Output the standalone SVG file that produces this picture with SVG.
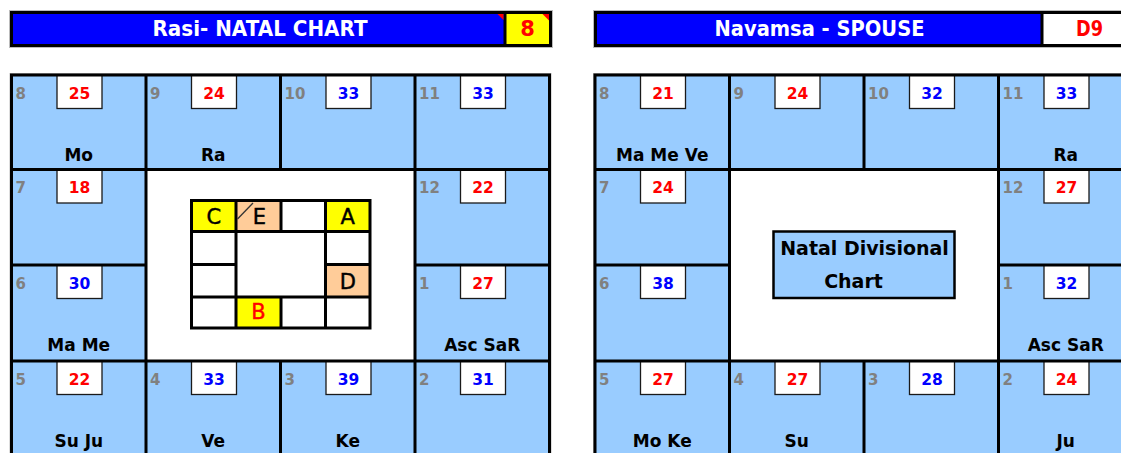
<svg xmlns="http://www.w3.org/2000/svg" width="1121" height="453" viewBox="0 0 1121 453">
<style>
.hdr{fill:#0000FF}
.bd{fill:none;stroke:#000;stroke-width:3;stroke-linecap:square}
.cell{fill:#99CCFF}
.nb{fill:#fff;stroke:#1a1a1a;stroke-width:1.3}
.hn{font-family:"DejaVu Sans",sans-serif;font-weight:bold;font-size:15px;fill:#808080}
.nr{font-family:"DejaVu Sans",sans-serif;font-weight:bold;font-size:15.5px;fill:#FF0000;text-anchor:middle}
.nbl{font-family:"DejaVu Sans",sans-serif;font-weight:bold;font-size:15.5px;fill:#0000FF;text-anchor:middle}
.pl{font-family:"DejaVu Sans",sans-serif;font-weight:bold;font-size:17px;fill:#000;text-anchor:middle}
.ht{font-family:"DejaVu Sans",sans-serif;font-weight:bold;font-size:21px;fill:#fff;text-anchor:middle}
.hr{font-family:"DejaVu Sans",sans-serif;font-weight:bold;font-size:21px;fill:#FF0000;text-anchor:middle}
.ml{font-family:"DejaVu Sans",sans-serif;font-size:21px;fill:#000;stroke:#000;stroke-width:0.45;text-anchor:middle}
.mlr{font-family:"DejaVu Sans",sans-serif;font-size:21px;fill:#FF0000;stroke:#FF0000;stroke-width:0.45;text-anchor:middle}
.ct{font-family:"DejaVu Sans",sans-serif;font-weight:bold;font-size:19px;fill:#000;text-anchor:middle}
.tri{fill:#FF0000}
</style>
<rect width="1121" height="453" fill="#fff"/>

<!-- Left header -->
<g id="header-left">
  <rect x="9.5" y="10.5" width="543" height="37" fill="none" stroke="#bbb" stroke-width="1"/>
  <rect x="11.5" y="12.5" width="539" height="33" class="hdr"/>
  <rect x="505" y="12.5" width="45.5" height="33" fill="#FFFF00"/>
  <rect x="11.5" y="12.5" width="539" height="33" class="bd"/>
  <line x1="505" y1="12.5" x2="505" y2="45.5" class="bd"/>
  <polygon class="tri" points="497.5,14 503.5,14 503.5,20"/>
  <polygon class="tri" points="542.5,14 549,14 549,20.5"/>
  <text x="260" y="36" class="ht" textLength="215" lengthAdjust="spacingAndGlyphs">Rasi- NATAL CHART</text>
  <text x="527.5" y="36" class="hr">8</text>
</g>

<!-- Right header -->
<g id="header-right">
  <rect x="593.5" y="10.5" width="545" height="37" fill="none" stroke="#bbb" stroke-width="1"/>
  <rect x="595.5" y="12.5" width="541" height="33" class="hdr"/>
  <rect x="1042" y="12.5" width="94" height="33" fill="#fff"/>
  <rect x="595.5" y="12.5" width="541" height="33" class="bd"/>
  <line x1="1042" y1="12.5" x2="1042" y2="45.5" class="bd"/>
  <text x="819.5" y="36" class="ht" textLength="210" lengthAdjust="spacingAndGlyphs">Navamsa - SPOUSE</text>
  <text x="1089.5" y="36" class="hr" textLength="27" lengthAdjust="spacingAndGlyphs">D9</text>
</g>

<!-- LEFT CHART -->
<g id="rasi-chart">
  <rect x="10" y="73.5" width="541" height="385" fill="none" stroke="#bbb" stroke-width="1"/>
  <g id="rasi-cells-bg">
    <rect x="11.5" y="75" width="538" height="382" class="cell"/>
    <rect x="146" y="169.5" width="269" height="191.5" fill="#fff"/>
  </g>
  <g id="rasi-boxes">
    <rect x="57" y="75" width="45" height="33.5" class="nb"/>
    <rect x="191.5" y="75" width="45" height="33.5" class="nb"/>
    <rect x="326" y="75" width="45" height="33.5" class="nb"/>
    <rect x="460.5" y="75" width="45" height="33.5" class="nb"/>
    <rect x="57" y="169.5" width="45" height="33.5" class="nb"/>
    <rect x="460.5" y="169.5" width="45" height="33.5" class="nb"/>
    <rect x="57" y="265" width="45" height="33.5" class="nb"/>
    <rect x="460.5" y="265" width="45" height="33.5" class="nb"/>
    <rect x="57" y="361" width="45" height="33.5" class="nb"/>
    <rect x="191.5" y="361" width="45" height="33.5" class="nb"/>
    <rect x="326" y="361" width="45" height="33.5" class="nb"/>
    <rect x="460.5" y="361" width="45" height="33.5" class="nb"/>
  </g>
  <path class="bd" d="M11.5,75H549.5V457H11.5Z M146,75V457 M415,75V457 M280.5,75V169.5 M280.5,361V457 M11.5,169.5H549.5 M11.5,361H549.5 M11.5,265H146 M415,265H549.5"/>

  <g id="rasi-h8"><text x="15.5" y="98.5" class="hn">8</text><text x="79.5" y="98.5" class="nr">25</text><text x="78.75" y="161" class="pl">Mo</text></g>
  <g id="rasi-h9"><text x="150" y="98.5" class="hn">9</text><text x="214" y="98.5" class="nr">24</text><text x="213.25" y="161" class="pl">Ra</text></g>
  <g id="rasi-h10"><text x="284.5" y="98.5" class="hn">10</text><text x="348.5" y="98.5" class="nbl">33</text></g>
  <g id="rasi-h11"><text x="419" y="98.5" class="hn">11</text><text x="483" y="98.5" class="nbl">33</text></g>
  <g id="rasi-h7"><text x="15.5" y="193" class="hn">7</text><text x="79.5" y="193" class="nr">18</text></g>
  <g id="rasi-h12"><text x="419" y="193" class="hn">12</text><text x="483" y="193" class="nr">22</text></g>
  <g id="rasi-h6"><text x="15.5" y="288.5" class="hn">6</text><text x="79.5" y="288.5" class="nbl">30</text><text x="78.75" y="351" class="pl">Ma Me</text></g>
  <g id="rasi-h1"><text x="419" y="288.5" class="hn">1</text><text x="483" y="288.5" class="nr">27</text><text x="482.25" y="351" class="pl">Asc SaR</text></g>
  <g id="rasi-h5"><text x="15.5" y="384.5" class="hn">5</text><text x="79.5" y="384.5" class="nr">22</text><text x="78.75" y="447" class="pl">Su Ju</text></g>
  <g id="rasi-h4"><text x="150" y="384.5" class="hn">4</text><text x="214" y="384.5" class="nbl">33</text><text x="213.25" y="447" class="pl">Ve</text></g>
  <g id="rasi-h3"><text x="284.5" y="384.5" class="hn">3</text><text x="348.5" y="384.5" class="nbl">39</text><text x="347.75" y="447" class="pl">Ke</text></g>
  <g id="rasi-h2"><text x="419" y="384.5" class="hn">2</text><text x="483" y="384.5" class="nbl">31</text></g>

  <g id="mini-grid">
    <rect x="191.5" y="200.5" width="178.5" height="127.5" fill="#fff"/>
    <rect x="191.5" y="200.5" width="44.5" height="31" fill="#FFFF00"/>
    <rect x="236" y="200.5" width="45" height="31" fill="#FFCC99"/>
    <rect x="325.5" y="200.5" width="44.5" height="31" fill="#FFFF00"/>
    <rect x="325.5" y="264.5" width="44.5" height="32.5" fill="#FFCC99"/>
    <rect x="236" y="297" width="45" height="31" fill="#FFFF00"/>
    <path class="bd" d="M191.5,200.5H370V328H191.5Z M236,200.5V328 M325.5,200.5V328 M281,200.5V231.5 M281,297V328 M191.5,231.5H370 M191.5,297H370 M191.5,264.5H236 M325.5,264.5H370"/>
    <line x1="237.5" y1="219" x2="253" y2="203" stroke="#333" stroke-width="1.3"/>
    <text x="213.75" y="223.5" class="ml">C</text>
    <text x="259.5" y="223.5" class="ml">E</text>
    <text x="347.75" y="223.5" class="ml">A</text>
    <text x="347.75" y="288.5" class="ml">D</text>
    <text x="258.5" y="319" class="mlr">B</text>
  </g>
</g>

<!-- RIGHT CHART -->
<g id="navamsa-chart">
  <rect x="593.5" y="73.5" width="541" height="385" fill="none" stroke="#bbb" stroke-width="1"/>
  <g id="navamsa-cells-bg">
    <rect x="595" y="75" width="538" height="382" class="cell"/>
    <rect x="729.5" y="169.5" width="269" height="191.5" fill="#fff"/>
  </g>
  <g id="navamsa-boxes">
    <rect x="640.5" y="75" width="45" height="33.5" class="nb"/>
    <rect x="775" y="75" width="45" height="33.5" class="nb"/>
    <rect x="909.5" y="75" width="45" height="33.5" class="nb"/>
    <rect x="1044" y="75" width="45" height="33.5" class="nb"/>
    <rect x="640.5" y="169.5" width="45" height="33.5" class="nb"/>
    <rect x="1044" y="169.5" width="45" height="33.5" class="nb"/>
    <rect x="640.5" y="265" width="45" height="33.5" class="nb"/>
    <rect x="1044" y="265" width="45" height="33.5" class="nb"/>
    <rect x="640.5" y="361" width="45" height="33.5" class="nb"/>
    <rect x="775" y="361" width="45" height="33.5" class="nb"/>
    <rect x="909.5" y="361" width="45" height="33.5" class="nb"/>
    <rect x="1044" y="361" width="45" height="33.5" class="nb"/>
  </g>
  <path class="bd" d="M595,75H1133V457H595Z M729.5,75V457 M998.5,75V457 M864,75V169.5 M864,361V457 M595,169.5H1133 M595,361H1133 M595,265H729.5 M998.5,265H1133"/>

  <g id="nav-h8"><text x="599" y="98.5" class="hn">8</text><text x="663" y="98.5" class="nr">21</text><text x="662.25" y="161" class="pl">Ma Me Ve</text></g>
  <g id="nav-h9"><text x="733.5" y="98.5" class="hn">9</text><text x="797.5" y="98.5" class="nr">24</text></g>
  <g id="nav-h10"><text x="868" y="98.5" class="hn">10</text><text x="932" y="98.5" class="nbl">32</text></g>
  <g id="nav-h11"><text x="1002.5" y="98.5" class="hn">11</text><text x="1066.5" y="98.5" class="nbl">33</text><text x="1065.75" y="161" class="pl">Ra</text></g>
  <g id="nav-h7"><text x="599" y="193" class="hn">7</text><text x="663" y="193" class="nr">24</text></g>
  <g id="nav-h12"><text x="1002.5" y="193" class="hn">12</text><text x="1066.5" y="193" class="nr">27</text></g>
  <g id="nav-h6"><text x="599" y="288.5" class="hn">6</text><text x="663" y="288.5" class="nbl">38</text></g>
  <g id="nav-h1"><text x="1002.5" y="288.5" class="hn">1</text><text x="1066.5" y="288.5" class="nbl">32</text><text x="1065.75" y="351" class="pl">Asc SaR</text></g>
  <g id="nav-h5"><text x="599" y="384.5" class="hn">5</text><text x="663" y="384.5" class="nr">27</text><text x="662.25" y="447" class="pl">Mo Ke</text></g>
  <g id="nav-h4"><text x="733.5" y="384.5" class="hn">4</text><text x="797.5" y="384.5" class="nr">27</text><text x="796.75" y="447" class="pl">Su</text></g>
  <g id="nav-h3"><text x="868" y="384.5" class="hn">3</text><text x="932" y="384.5" class="nbl">28</text></g>
  <g id="nav-h2"><text x="1002.5" y="384.5" class="hn">2</text><text x="1066.5" y="384.5" class="nr">24</text><text x="1065.75" y="447" class="pl">Ju</text></g>

  <g id="natal-divisional-box">
    <rect x="773.5" y="231.5" width="181" height="66.5" fill="#99CCFF" stroke="#000" stroke-width="2.5"/>
    <text x="864.5" y="255" class="ct">Natal Divisional</text>
    <text x="853.5" y="288" class="ct">Chart</text>
  </g>
</g>

<g id="connectors"/>
</svg>
